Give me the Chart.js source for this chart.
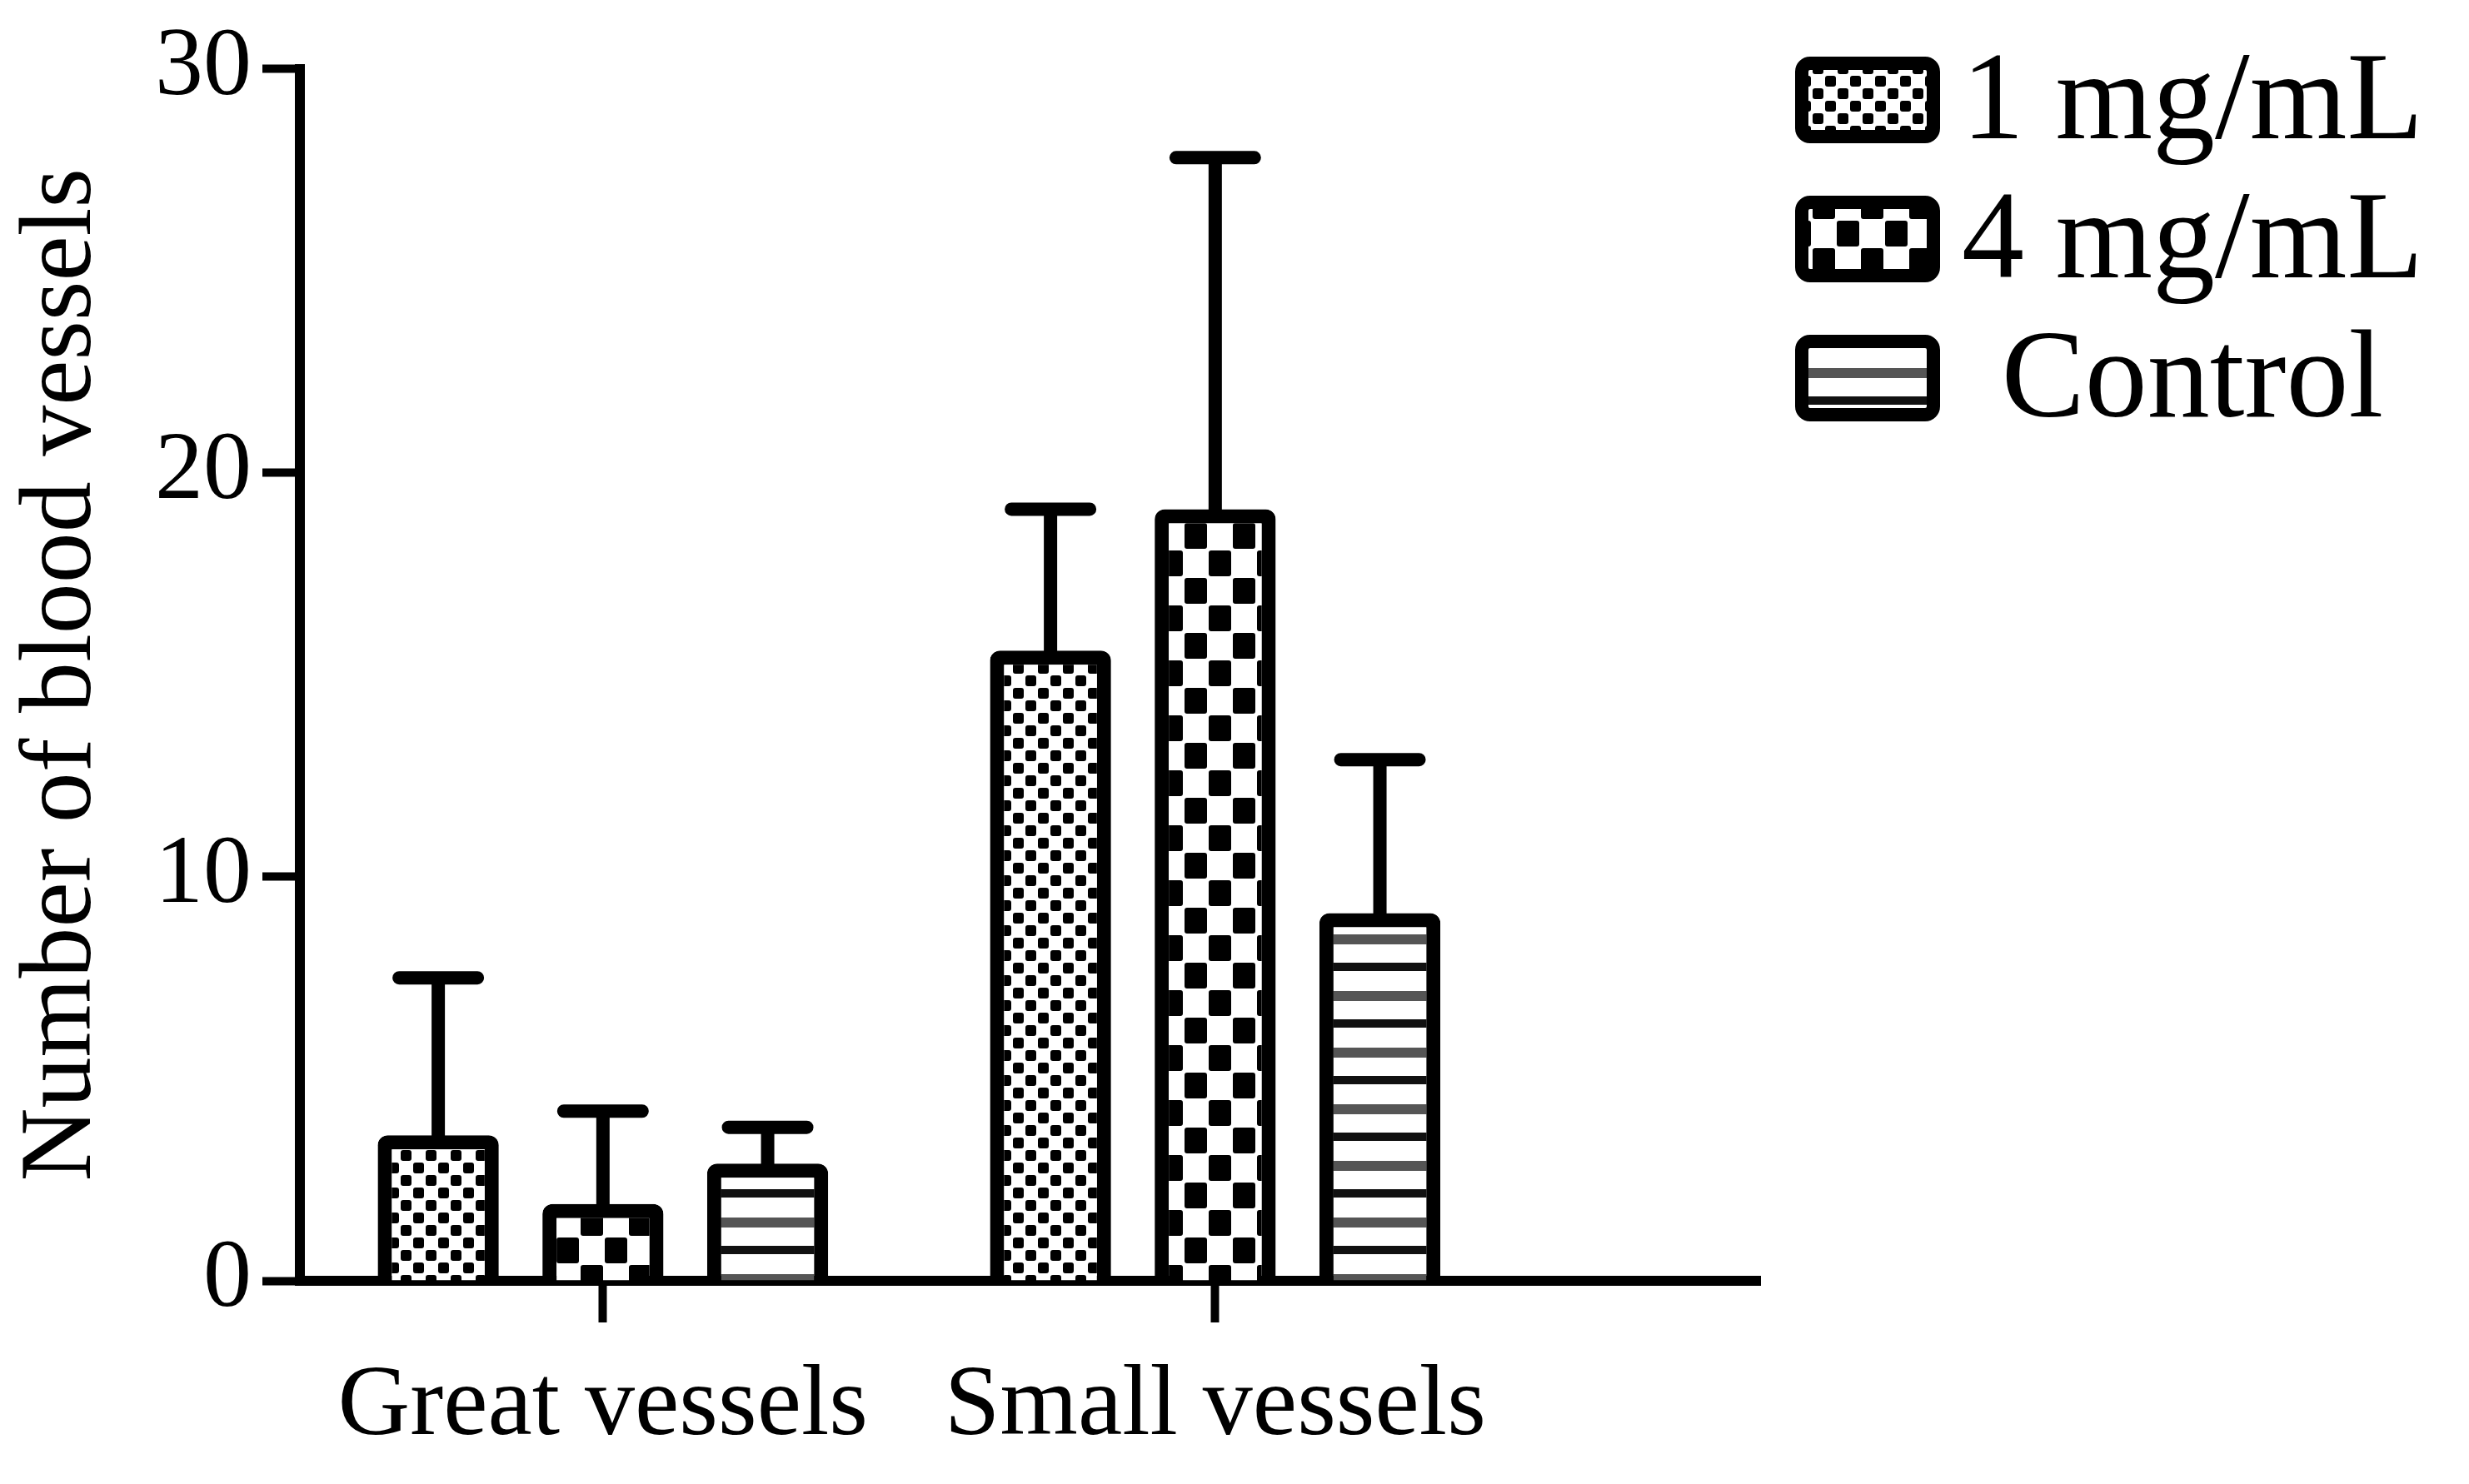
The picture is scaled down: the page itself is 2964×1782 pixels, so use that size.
<!DOCTYPE html>
<html>
<head>
<meta charset="utf-8">
<script src="https://cdn.jsdelivr.net/npm/chart.js@4.4.1/dist/chart.umd.min.js"></script>
<style>
  html, body { margin: 0; padding: 0; background: #fff; }
  #wrap { width: 2964px; height: 1782px; }
</style>
</head>
<body>
<div id="wrap"><canvas id="vesselChart"></canvas></div>
<script>
// values
const groups = ['Great vessels', 'Small vessels'];
const seriesNames = ['1 mg/mL', '4 mg/mL', 'Control'];
const oneMg = [3.6, 15.6];
const fourMg = [1.9, 19.1];
const control = [2.9, 9.1];
// top of the error bars (mean + SD)
const oneMgErrTop = [7.5, 19.1];
const fourMgErrTop = [4.2, 27.8];
const controlErrTop = [3.8, 12.9];
const yTicks = [0, 10, 20, 30];

const serif = '"Liberation Serif", "Times New Roman", serif';

// fill patterns like the GraphPad hatch styles
function makePattern(w, h, draw) {
    const tile = document.createElement('canvas');
    tile.width = w;
    tile.height = h;
    const t = tile.getContext('2d');
    t.fillStyle = '#fff';
    t.fillRect(0, 0, w, h);
    draw(t);
    return document.createElement('canvas').getContext('2d').createPattern(tile, 'repeat');
}

const smallChecks = makePattern(30, 30, t => {
    t.fillStyle = '#000';
    t.beginPath();
    t.roundRect(1, 1, 13, 13, 3);
    t.roundRect(16, 16, 13, 13, 3);
    t.fill();
});

const bigChecks = makePattern(58, 66, t => {
    t.fillStyle = '#000';
    t.beginPath();
    t.roundRect(1, 1, 27, 31, 3);
    t.roundRect(30, 34, 27, 31, 3);
    t.fill();
});

const stripes = makePattern(20, 68, t => {
    t.fillStyle = '#111';
    t.fillRect(0, 0, 20, 10);
    t.fillStyle = '#555';
    t.fillRect(0, 34, 20, 12);
});

const fills = [smallChecks, bigChecks, stripes];
const seriesValues = [oneMg, fourMg, control];
const seriesErr = [oneMgErrTop, fourMgErrTop, controlErrTop];

const errorBars = {
    id: 'errorBars',
    afterDatasetsDraw(chart) {
        const ctx = chart.ctx;
        const yScale = chart.scales.y;
        ctx.save();
        ctx.strokeStyle = '#000';
        ctx.lineWidth = 16;
        ctx.lineCap = 'round';
        chart.data.datasets.forEach((ds, i) => {
            const meta = chart.getDatasetMeta(i);
            meta.data.forEach((bar, j) => {
                const yTop = yScale.getPixelForValue(seriesErr[i][j]);
                ctx.beginPath();
                ctx.moveTo(bar.x, bar.y + 4);
                ctx.lineTo(bar.x, yTop);
                ctx.moveTo(bar.x - 47, yTop);
                ctx.lineTo(bar.x + 47, yTop);
                ctx.stroke();
            });
        });
        ctx.restore();
    }
};

const legendBoxes = {
    id: 'legendBoxes',
    afterDraw(chart) {
        const ctx = chart.ctx;
        ctx.save();
        chart.data.datasets.forEach((ds, i) => {
            const cy = 120 + i * 167;
            ctx.beginPath();
            ctx.roundRect(2163, cy - 44, 158, 88, 10);
            ctx.fillStyle = ds.backgroundColor;
            ctx.fill();
            ctx.lineWidth = 16;
            ctx.strokeStyle = '#000';
            ctx.stroke();
            ctx.fillStyle = '#000';
            ctx.font = '150px ' + serif;
            ctx.textAlign = 'center';
            ctx.textBaseline = 'alphabetic';
            ctx.fillText(ds.label, 2632, cy + 46);
        });
        ctx.restore();
    }
};

new Chart(document.getElementById('vesselChart'), {
    type: 'bar',
    data: {
        datasets: seriesNames.map((name, i) => ({
            label: name,
            data: seriesValues[i].map((v, j) => ({ x: j, y: v })),
            backgroundColor: fills[i],
            borderColor: '#000',
            borderWidth: 17,
            borderRadius: 12,
            categoryPercentage: 0.807,
            barPercentage: 0.735
        }))
    },
    options: {
        responsive: true,
        maintainAspectRatio: false,
        animation: false,
        layout: { padding: { top: 79, right: 851, left: 0, bottom: 0 } },
        plugins: {
            legend: { display: false },
            tooltip: { enabled: false }
        },
        scales: {
            x: {
                type: 'linear',
                min: -0.495,
                max: 1.89,
                offset: false,
                afterFit: scale => { scale.height = 244; },
                afterBuildTicks: scale => {
                    scale.ticks = groups.map((g, i) => ({ value: i }));
                },
                border: { color: '#000', width: 12 },
                grid: {
                    offset: false,
                    drawOnChartArea: false,
                    drawTicks: true,
                    tickLength: 50,
                    tickWidth: 10,
                    tickColor: '#000'
                },
                ticks: {
                    padding: 30,
                    color: '#000',
                    font: { family: serif, size: 120 },
                    callback: value => groups[value]
                }
            },
            y: {
                min: 0,
                max: 30,
                afterFit: scale => { scale.width = 360; },
                afterBuildTicks: scale => {
                    scale.ticks = yTicks.map(v => ({ value: v }));
                },
                border: { color: '#000', width: 12 },
                grid: {
                    drawOnChartArea: false,
                    drawTicks: true,
                    tickLength: 45,
                    tickWidth: 10,
                    tickColor: '#000'
                },
                ticks: {
                    padding: 13,
                    color: '#000',
                    font: { family: serif, size: 116 }
                },
                title: {
                    display: true,
                    text: 'Number of blood vessels',
                    color: '#000',
                    padding: { top: 3, bottom: 0 },
                    font: { family: serif, size: 122 }
                }
            }
        }
    },
    plugins: [errorBars, legendBoxes]
});
</script>
</body>
</html>
